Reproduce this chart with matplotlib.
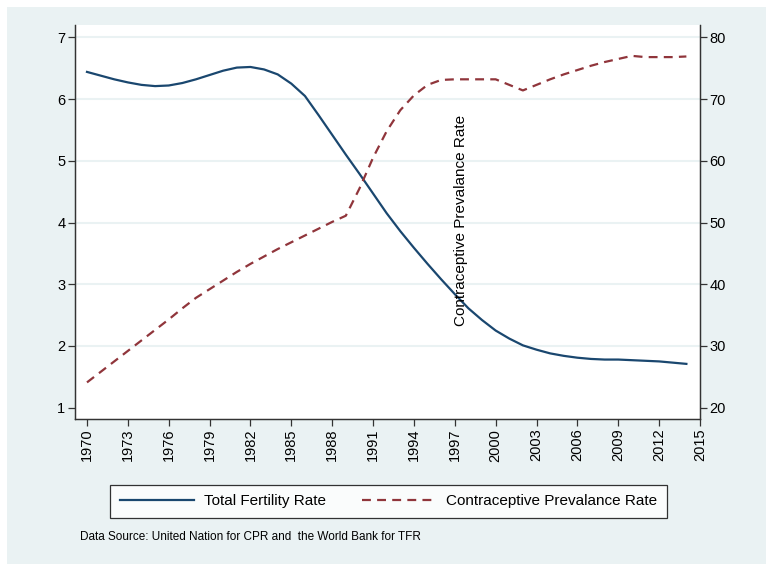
import numpy as np
import matplotlib
matplotlib.use("Agg")
import matplotlib.pyplot as plt
from matplotlib.patches import Rectangle

plt.rcParams['font.family'] = ['Liberation Sans', 'DejaVu Sans']

years = np.arange(1970, 2015)

# total fertility rate (left axis)
tfr = [6.44, 6.38, 6.32, 6.27, 6.23, 6.21, 6.22, 6.26, 6.32, 6.39,
       6.46, 6.51, 6.52, 6.48, 6.40, 6.25, 6.05, 5.74, 5.42, 5.10,
       4.79, 4.47, 4.15, 3.86, 3.59, 3.33, 3.08, 2.84, 2.61, 2.42,
       2.25, 2.12, 2.01, 1.94, 1.88, 1.84, 1.81, 1.79, 1.78, 1.78,
       1.77, 1.76, 1.75, 1.73, 1.71]

# contraceptive prevalence rate (right axis)
cpr = [24.1, 25.8, 27.5, 29.2, 30.9, 32.6, 34.3, 36.1, 37.8, 39.2,
       40.6, 42.0, 43.3, 44.5, 45.7, 46.8, 47.9, 49.0, 50.1, 51.1,
       55.5, 60.5, 64.8, 68.2, 70.6, 72.3, 73.1, 73.2, 73.2, 73.2,
       73.2, 72.3, 71.4, 72.3, 73.2, 74.0, 74.7, 75.4, 76.0, 76.5,
       77.0, 76.8, 76.8, 76.8, 76.9]

xticks = np.arange(1970, 2016, 3)
left_ticks = [1, 2, 3, 4, 5, 6, 7]
right_ticks = [20, 30, 40, 50, 60, 70, 80]

navy = "#1A476F"
maroon = "#90353B"
bg = "#EAF2F3"

W, H = 768, 564
fig = plt.figure(figsize=(7.68, 5.64), dpi=100, facecolor="white")
# stata-like graph region, white strip only on top/left
fig.patches.append(Rectangle((7/W, 0), 759/W, 557/H, transform=fig.transFigure,
                             facecolor=bg, edgecolor="none", zorder=-10))

ax = fig.add_axes([75/W, (H-419)/H, 625/W, 394/H])
ax.set_facecolor("white")

for v in left_ticks[1:]:
    ax.axhline(v, color=bg, lw=1.5, zorder=0)

ax.plot(years, tfr, color=navy, lw=1.6, label="Total Fertility Rate", zorder=3)
ax.set_xlim(1969.12, 2015)
ax.set_ylim(0.817, 7.2)
ax.set_yticks(left_ticks)
ax.set_xticks(xticks)
ax.set_xticklabels([str(x) for x in xticks], rotation=90)

ax2 = ax.twinx()
ax2.plot(years, cpr, color=maroon, lw=1.6, ls=(0, (4, 2.8)),
         label="Contraceptive Prevalance Rate", zorder=3)
ax2.set_ylim(18.17, 82)
ax2.set_yticks(right_ticks)

for a in (ax, ax2):
    a.spines['top'].set_visible(False)
    for s in ('left', 'right', 'bottom'):
        a.spines[s].set_color("#333333")
        a.spines[s].set_linewidth(0.9)
    a.tick_params(length=5, width=0.9, color="#333333", labelsize=10.5, pad=2)

ax.text(1997.45, 4.03, "Contraceptive Prevalance Rate", rotation=90,
        ha="center", va="center", fontsize=11, zorder=5)

h1, l1 = ax.get_legend_handles_labels()
h2, l2 = ax2.get_legend_handles_labels()
leg = fig.legend(h1 + h2, l1 + l2, loc="center", bbox_to_anchor=(388.5/W, 1 - 501.5/H),
                 ncol=2, frameon=True, fancybox=False, fontsize=11,
                 handlelength=4.8, handletextpad=0.7, columnspacing=2.3,
                 borderpad=0.65, borderaxespad=0)
leg.get_frame().set_edgecolor("black")
leg.get_frame().set_linewidth(0.9)

fig.text(80/W, 1 - 537/H, "Data Source: United Nation for CPR and  the World Bank for TFR",
         fontsize=8.5, va="center", ha="left")

fig.savefig("out.png", dpi=100, facecolor=fig.get_facecolor())
